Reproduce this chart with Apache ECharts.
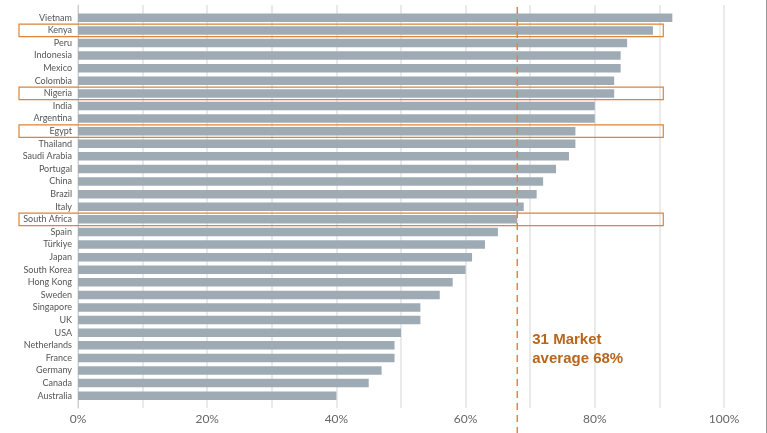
<!DOCTYPE html>
<html>
<head>
<meta charset="utf-8">
<script src="https://cdn.jsdelivr.net/npm/echarts@6/dist/echarts.min.js"></script>
<style>
html,body{margin:0;padding:0;background:#fff;}
#chart{width:767px;height:433px;}
</style>
</head>
<body>
<div id="chart"></div>
<script>
const categories = ["Vietnam","Kenya","Peru","Indonesia","Mexico","Colombia","Nigeria","India","Argentina","Egypt","Thailand","Saudi Arabia","Portugal","China","Brazil","Italy","South Africa","Spain","Türkiye","Japan","South Korea","Hong Kong","Sweden","Singapore","UK","USA","Netherlands","France","Germany","Canada","Australia"];
const values = [92,89,85,84,84,83,83,80,80,77,77,76,74,72,71,69,68,65,63,61,60,58,56,53,53,50,49,49,47,45,40];
const highlighted = ["Kenya","Nigeria","Egypt","South Africa"];
const average = 68;
const averageLabel = "31 Market\naverage 68%";
const xTicks = [0,20,40,60,80,100];

const chart = echarts.init(document.getElementById('chart'));
const G = {left:78, right:43};
chart.setOption({
  animation:false,
  grid:[
    {left:G.left, right:G.right, top:5, bottom:25},
    {left:G.left, right:G.right, top:11.5, bottom:31}
  ],
  xAxis:[
    {gridIndex:0, type:'value', min:0, max:100, interval:10,
     axisLine:{show:false}, axisTick:{show:false},
     splitLine:{show:true, lineStyle:{color:'#e3e3e3', width:1.5}},
     axisLabel:{margin:5, color:'#666', fontSize:12, fontFamily:'Lato, sans-serif',
       formatter:v => xTicks.indexOf(v) >= 0 ? v + '%' : ''}},
    {gridIndex:1, type:'value', min:0, max:100, show:false}
  ],
  yAxis:[
    {gridIndex:0, type:'value', axisLine:{show:true, lineStyle:{color:'#ccc'}}, axisLabel:{show:false}, axisTick:{show:false}, splitLine:{show:false}},
    {gridIndex:1, type:'category', data:categories, inverse:true,
     axisLine:{show:false}, axisTick:{show:false},
     axisLabel:{margin:6, color:'#555', fontSize:9, fontFamily:'Lato, sans-serif'}}
  ],
  series:[{
    type:'bar', xAxisIndex:1, yAxisIndex:1, data:values,
    barWidth:8.5,
    itemStyle:{color:'#9eabb4'},
    silent:true
  }]
});

function drawOverlays(){
  const els = [];
  const xAvg = chart.convertToPixel({xAxisIndex:1}, average);
  els.push({type:'line', shape:{x1:xAvg, y1:7, x2:xAvg, y2:433},
    style:{stroke:'#e5804a', lineWidth:1.5, lineDash:[7,5]}, z:10});
  const y0 = chart.convertToPixel({yAxisIndex:1}, categories[0]);
  const y1 = chart.convertToPixel({yAxisIndex:1}, categories[1]);
  const band = y1 - y0;
  const xRight = chart.convertToPixel({xAxisIndex:1}, 90.6);
  highlighted.forEach(c => {
    const yc = chart.convertToPixel({yAxisIndex:1}, c);
    els.push({type:'rect', shape:{x:19, y:yc - band/2, width:xRight - 19, height:band},
      style:{fill:'none', stroke:'#d9853b', lineWidth:1.2}, z:11});
  });
  const yText = chart.convertToPixel({yAxisIndex:1}, 'USA');
  els.push({type:'text', x:xAvg + 15, y:yText - 2,
    style:{text:averageLabel, fill:'#b8661c', font:'bold 15px "Liberation Sans", Arial, sans-serif', lineHeight:19},
    z:12});
  els.push({type:'line', shape:{x1:766.5, y1:0, x2:766.5, y2:433}, style:{stroke:'#999', lineWidth:1}});
  chart.setOption({graphic:{elements:els}});
}
drawOverlays();
</script>
</body>
</html>
